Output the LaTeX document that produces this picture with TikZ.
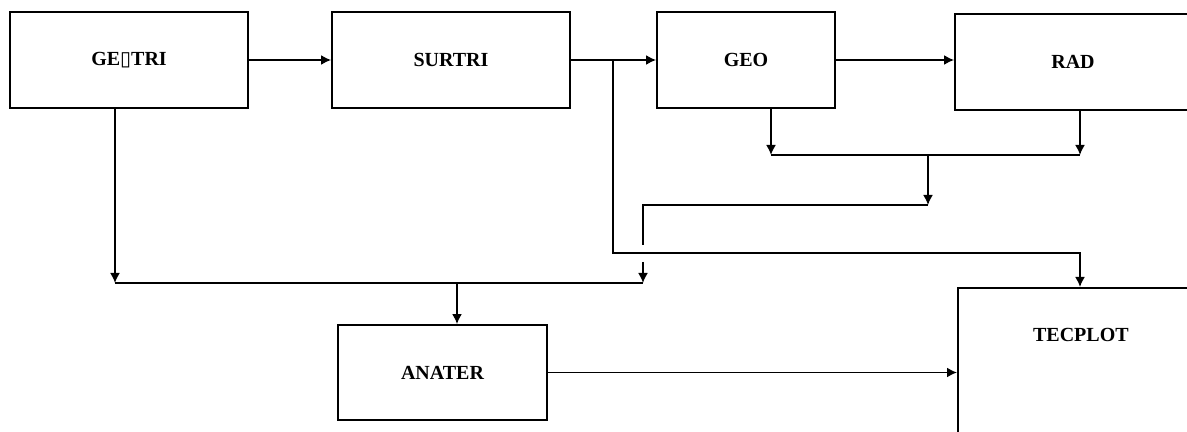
\documentclass[tikz,border=0pt]{standalone}
\usepackage{fontspec}
\setmainfont{Liberation Serif}
\newfontfamily\symfont{DejaVu Sans}
\usetikzlibrary{arrows.meta}

\begin{document}
\begin{tikzpicture}[x=0.5pt, y=-0.5pt, line width=0.9pt,
	>={Latex[length=5pt,width=5pt]},
	box/.style={draw, inner sep=0pt, font=\bfseries\fontsize{10}{12}\selectfont}]
					\clip (0,0) rectangle (1187,432);
					
					\node[box, minimum width=119pt, minimum height=48pt] (geotri) at (129,60) {GE{\symfont\mdseries ▯}TRI};
					\node[box, minimum width=119pt, minimum height=48pt] (surtri) at (451,60) {SURTRI};
					\node[box, minimum width=89pt, minimum height=48pt] (geo) at (746,60) {GEO};
					\node[box, minimum width=118pt, minimum height=48pt] (rad) at (1073,62) {RAD};
					\node[box, minimum width=104.5pt, minimum height=47.5pt] (anater) at (442.5,372.5) {ANATER};
					\node[box, anchor=north west, text width=123pt, align=center, text height=27pt, text depth=52pt] (tecplot) at (957,287) {TECPLOT};
					
					\coordinate (j1) at (613,60);
					\coordinate (t1) at (1080,253);
					\coordinate (ga) at (771,155);
					\coordinate (ra) at (1080,155);
					\coordinate (m1) at (928,155);
					\coordinate (m2) at (928,205);
					\coordinate (h1) at (643,245);
					\coordinate (h2) at (643,262);
					\coordinate (b1) at (115,283);
					\coordinate (b2) at (643,283);
					\coordinate (b0) at (457,283);
					
					\draw[->] (geotri.east) -- (surtri.west);
					\draw[->] (surtri.east) -- (geo.west);
					\draw[->] (geo.east) -- (geo.east -| rad.west);
					
					\draw[->] (j1) |- (t1) -- (t1 |- tecplot.north);
					
					\draw[->] (geo.south -| ga) -- (ga);
					\draw[->] (rad.south -| ra) -- (ra);
					\draw (ga) -- (ra);
					\draw[->] (m1) -- (m2);
					\draw (m2) -| (h1);
					\draw[->] (h2) -- (b2);
					
					\draw[->] (geotri.south -| b1) -- (b1);
					\draw (b1) -- (b2);
					\draw[->] (b0) -- (b0 |- anater.north);
					
					\draw[->] (anater.east) -- (anater.east -| tecplot.west);
					
				\end{tikzpicture}
\end{document}
